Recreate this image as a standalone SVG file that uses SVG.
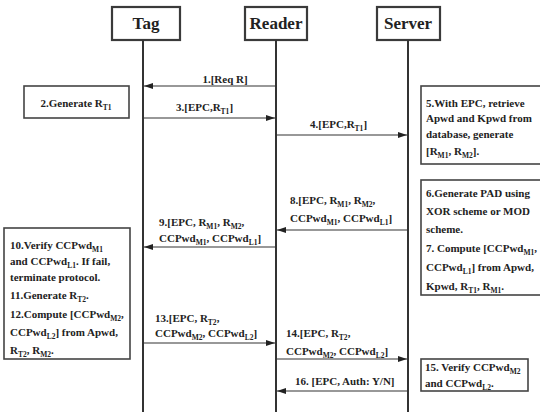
<svg xmlns="http://www.w3.org/2000/svg" width="540" height="412" viewBox="0 0 540 412">
<defs>
<style>
.hdr{fill:#fff;stroke:#3a3a3a;stroke-width:2.2}
.htx{font-family:"Liberation Serif",serif;font-size:17px;font-weight:bold;fill:#222;text-anchor:middle}
.life{stroke:#333;stroke-width:2;fill:none}
.box{fill:#fff;stroke:#444;stroke-width:1.6}
.t{font-family:"Liberation Serif",serif;font-size:11px;font-weight:bold;fill:#222}
.s{font-size:7.5px}
.msg{stroke:#333;stroke-width:1.2;fill:none;marker-end:url(#ah)}
</style>
<marker id="ah" markerWidth="9" markerHeight="6" refX="9" refY="3" orient="auto" markerUnits="userSpaceOnUse">
<path d="M0,0 L9,3 L0,6 z" fill="#222"/>
</marker>
</defs>
<rect width="540" height="412" fill="#fff"/>

<g id="tag">
<rect class="hdr" x="112" y="7" width="68" height="33"/>
<text class="htx" x="146" y="29">Tag</text>
<line class="life" x1="143" y1="40" x2="143" y2="412"/>
</g>
<g id="reader">
<rect class="hdr" x="245" y="7" width="62" height="33"/>
<text class="htx" x="276" y="29">Reader</text>
<line class="life" x1="276" y1="40" x2="276" y2="412"/>
</g>
<g id="server">
<rect class="hdr" x="377" y="7" width="63" height="33"/>
<text class="htx" x="408" y="29">Server</text>
<line class="life" x1="408" y1="40" x2="408" y2="412"/>
</g>

<g id="step2">
<rect class="box" x="24" y="86" width="105" height="32"/>
<text class="t" x="76" y="107" text-anchor="middle">2.Generate R<tspan class="s" dy="3">T1</tspan></text>
</g>

<g id="step5">
<rect class="box" x="421" y="86" width="130" height="78"/>
<text class="t" x="426" y="107">5.With EPC, retrieve</text>
<text class="t" x="426" y="122">Apwd and Kpwd from</text>
<text class="t" x="426" y="138">database, generate</text>
<text class="t" x="426" y="155">[R<tspan class="s" dy="3">M1</tspan><tspan dy="-3">, R</tspan><tspan class="s" dy="3">M2</tspan><tspan dy="-3">].</tspan></text>
</g>

<g id="step67">
<rect class="box" x="421" y="180" width="130" height="115"/>
<text class="t" x="426" y="197">6.Generate PAD using</text>
<text class="t" x="426" y="215">XOR scheme or MOD</text>
<text class="t" x="426" y="233">scheme.</text>
<text class="t" x="426" y="252">7. Compute [CCPwd<tspan class="s" dy="3">M1</tspan><tspan dy="-3">,</tspan></text>
<text class="t" x="426" y="271">CCPwd<tspan class="s" dy="3">L1</tspan><tspan dy="-3">] from Apwd,</tspan></text>
<text class="t" x="426" y="290">Kpwd, R<tspan class="s" dy="3">T1</tspan><tspan dy="-3">, R</tspan><tspan class="s" dy="3">M1</tspan><tspan dy="-3">.</tspan></text>
</g>

<g id="step10">
<rect class="box" x="4" y="228" width="126" height="131"/>
<text class="t" x="10" y="249">10.Verify CCPwd<tspan class="s" dy="3">M1</tspan></text>
<text class="t" x="10" y="265">and CCPwd<tspan class="s" dy="3">L1</tspan><tspan dy="-3">. If fail,</tspan></text>
<text class="t" x="10" y="281">terminate protocol.</text>
<text class="t" x="10" y="299">11.Generate R<tspan class="s" dy="3">T2</tspan><tspan dy="-3">.</tspan></text>
<text class="t" x="10" y="318">12.Compute [CCPwd<tspan class="s" dy="3">M2</tspan><tspan dy="-3">,</tspan></text>
<text class="t" x="10" y="336">CCPwd<tspan class="s" dy="3">L2</tspan><tspan dy="-3">] from Apwd,</tspan></text>
<text class="t" x="10" y="354">R<tspan class="s" dy="3">T2</tspan><tspan dy="-3">, R</tspan><tspan class="s" dy="3">M2</tspan><tspan dy="-3">.</tspan></text>
</g>

<g id="step15">
<rect class="box" x="421" y="359" width="107" height="32"/>
<text class="t" x="425" y="371">15. Verify CCPwd<tspan class="s" dy="3">M2</tspan></text>
<text class="t" x="425" y="387">and CCPwd<tspan class="s" dy="3">L2</tspan><tspan dy="-3">.</tspan></text>
</g>

<g id="connectors">
<line class="msg" x1="276" y1="86" x2="144" y2="86"/>
<text class="t" x="225" y="83" text-anchor="middle">1.[Req R]</text>

<line class="msg" x1="143" y1="118" x2="275" y2="118"/>
<text class="t" x="176" y="111">3.[EPC,R<tspan class="s" dy="3">T1</tspan><tspan dy="-3">]</tspan></text>

<line class="msg" x1="276" y1="135" x2="407" y2="135"/>
<text class="t" x="310" y="128">4.[EPC,R<tspan class="s" dy="3">T1</tspan><tspan dy="-3">]</tspan></text>

<line class="msg" x1="408" y1="230" x2="277" y2="230"/>
<text class="t" x="290" y="204">8.[EPC, R<tspan class="s" dy="3">M1</tspan><tspan dy="-3">, R</tspan><tspan class="s" dy="3">M2</tspan><tspan dy="-3">,</tspan></text>
<text class="t" x="290" y="222">CCPwd<tspan class="s" dy="3">M1</tspan><tspan dy="-3">, CCPwd</tspan><tspan class="s" dy="3">L1</tspan><tspan dy="-3">]</tspan></text>

<line class="msg" x1="276" y1="247" x2="144" y2="247"/>
<text class="t" x="159" y="226">9.[EPC, R<tspan class="s" dy="3">M1</tspan><tspan dy="-3">, R</tspan><tspan class="s" dy="3">M2</tspan><tspan dy="-3">,</tspan></text>
<text class="t" x="159" y="242">CCPwd<tspan class="s" dy="3">M1</tspan><tspan dy="-3">, CCPwd</tspan><tspan class="s" dy="3">L1</tspan><tspan dy="-3">]</tspan></text>

<line class="msg" x1="143" y1="343" x2="275" y2="343"/>
<text class="t" x="155" y="322">13.[EPC, R<tspan class="s" dy="3">T2</tspan><tspan dy="-3">,</tspan></text>
<text class="t" x="155" y="337">CCPwd<tspan class="s" dy="3">M2</tspan><tspan dy="-3">, CCPwd</tspan><tspan class="s" dy="3">L2</tspan><tspan dy="-3">]</tspan></text>

<line class="msg" x1="276" y1="359" x2="407" y2="359"/>
<text class="t" x="286" y="337">14.[EPC, R<tspan class="s" dy="3">T2</tspan><tspan dy="-3">,</tspan></text>
<text class="t" x="286" y="355">CCPwd<tspan class="s" dy="3">M2</tspan><tspan dy="-3">, CCPwd</tspan><tspan class="s" dy="3">L2</tspan><tspan dy="-3">]</tspan></text>

<line class="msg" x1="408" y1="391" x2="277" y2="391"/>
<text class="t" x="295" y="385">16. [EPC, Auth: Y/N]</text>
</g>
</svg>
